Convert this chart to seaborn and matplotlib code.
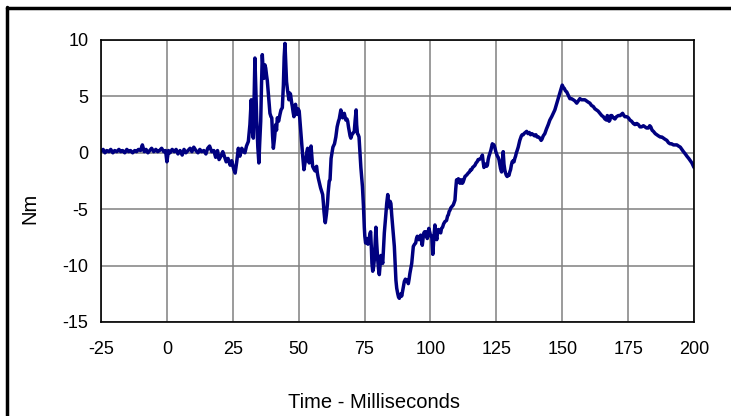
import numpy as np
import pandas as pd
import matplotlib
matplotlib.use("Agg")
import matplotlib.pyplot as plt
import seaborn as sns
from matplotlib.lines import Line2D

# time axis (ms) and torque (Nm)
time_ms = [
    -25, -24.2, -23.5, -22.8, -22, -21.3, -20.5, -19.8, -19, -18.2, -17.5, -16.8, -16, -15.2,
    -14.5, -13.8, -13, -12.2, -11.5, -10.8, -10, -9.3, -8.6, -7.9, -7.2, -6.5, -5.8, -5,
    -4.2, -3.5, -2.8, -2, -1.2, -0.5, 0, 0.6, 1.2, 2, 2.8, 3.5, 4.2, 5, 5.8, 6.5, 7.2, 8,
    8.8, 9.5, 10.2, 11, 11.8, 12.5, 13.2, 14, 14.8, 15.5, 16.2, 17, 17.8, 18.5, 19.2, 19.8,
    20.5, 21.2, 21.8, 22.5, 23.2, 24, 24.6, 25.3, 25.9, 26.5, 27.1, 27.7, 28.4, 29.0, 29.6,
    30.2, 30.9, 31.5, 32.0, 32.4, 32.8, 33.1, 33.4, 33.8, 34.1, 34.5, 34.9, 35.2, 35.6, 35.9,
    36.2, 36.5, 36.8, 37.2, 37.5, 37.8, 38.1, 38.6, 39.1, 39.5, 39.8, 40.1, 40.4, 40.8, 41.3,
    41.6, 41.9, 42.4, 42.9, 43.3, 43.8, 44.2, 44.5, 44.8, 45.1, 45.4, 45.8, 46.3, 46.6, 46.9,
    47.3, 47.6, 47.9, 48.2, 48.5, 48.8, 49.1, 49.4, 49.8, 50.2, 50.6, 51.1, 51.5, 52.0, 52.4,
    52.8, 53.1, 53.4, 53.7, 54.0, 54.4, 54.7, 55.0, 55.3, 55.7, 56.2, 56.5, 56.8, 57.1, 57.4,
    57.9, 58.3, 58.7, 59.1, 59.4, 59.6, 59.9, 60.1, 60.5, 60.9, 61.2, 61.6, 61.9, 62.3, 63.0,
    63.6, 64.1, 64.6, 65.1, 65.4, 66.0, 66.4, 66.7, 67.0, 67.3, 67.6, 67.9, 68.3, 68.6, 68.9,
    69.2, 69.5, 69.8, 70.2, 70.5, 70.8, 71.1, 71.4, 71.8, 72.0, 72.3, 72.6, 72.9, 73.2, 73.6,
    73.9, 74.2, 74.6, 74.9, 75.1, 75.4, 75.7, 76.0, 76.3, 76.7, 77.0, 77.3, 77.6, 77.8, 78.1,
    78.4, 78.7, 79.0, 79.3, 79.6, 80.0, 80.3, 80.6, 80.9, 81.2, 81.5, 81.9, 82.2, 82.5, 82.8,
    83.1, 83.4, 83.8, 84.1, 84.4, 84.7, 85.0, 85.3, 85.7, 86.0, 86.3, 86.6, 86.9, 87.2, 87.6,
    87.9, 88.2, 88.5, 88.8, 89.1, 89.5, 89.8, 90.1, 90.5, 91.0, 91.3, 91.6, 91.9, 92.2, 92.5,
    92.9, 93.2, 93.5, 94.0, 94.4, 94.7, 95.0, 95.3, 95.6, 96.0, 96.3, 96.6, 96.9, 97.2, 97.5,
    97.8, 98.2, 98.5, 98.8, 99.1, 99.4, 99.8, 100.1, 100.5, 100.9, 101.4, 101.7, 102.1, 102.4,
    102.7, 103.0, 103.4, 103.9, 104.2, 104.6, 105.0, 105.5, 106.1, 106.5, 106.8, 107.1, 107.4,
    107.7, 108.0, 108.4, 108.7, 109.0, 109.3, 109.6, 109.9, 110.2, 110.6, 110.9, 111.2, 111.5,
    111.8, 112.1, 112.4, 112.8, 113.1, 113.6, 114.0, 114.3, 114.8, 115.2, 115.6, 116.0, 116.5,
    116.9, 117.3, 117.7, 118.1, 118.5, 119.0, 119.4, 119.7, 120.0, 120.3, 120.7, 121.0, 121.3,
    121.6, 121.9, 122.2, 122.6, 122.9, 123.2, 123.5, 123.8, 124.1, 124.5, 124.8, 125.1, 125.4,
    125.7, 126.0, 126.3, 126.6, 127.0, 127.3, 127.6, 127.9, 128.2, 128.5, 128.8, 129.1, 129.5,
    129.8, 130.1, 130.4, 130.7, 131.0, 131.4, 131.7, 132.0, 132.3, 132.6, 132.9, 133.3, 133.6,
    133.9, 134.2, 134.5, 134.8, 135.2, 135.5, 136.0, 136.5, 137.0, 137.5, 138.0, 138.5, 139.0,
    139.5, 140.0, 140.5, 141.0, 141.5, 142.0, 142.3, 142.8, 143.4, 144.0, 144.7, 145.3, 146.0,
    146.6, 147.2, 147.7, 148.1, 148.6, 149.1, 149.6, 150.0, 150.4, 150.8, 151.2, 151.7, 152.3,
    152.9, 153.5, 154.2, 154.8, 155.5, 156.1, 156.7, 157.3, 158.0, 158.6, 159.2, 159.8, 160.5,
    161.1, 161.8, 162.4, 163.0, 163.6, 164.3, 165.0, 165.6, 166.2, 166.8, 167.1, 167.5, 167.8,
    168.1, 168.4, 168.8, 169.4, 170.0, 170.6, 171.3, 172.0, 172.9, 173.4, 173.8, 174.5, 175.1,
    175.7, 176.3, 177.0, 177.6, 178.3, 178.9, 179.5, 180.1, 180.8, 181.4, 182.0, 182.7, 183.2,
    183.6, 184.1, 184.6, 185.3, 185.9, 186.5, 187.2, 187.8, 188.4, 189.0, 189.7, 190.3, 190.9,
    191.5, 192.2, 192.8, 193.5, 194.1, 194.8, 195.4, 196.0, 196.7, 197.3, 198.0, 198.6, 199.2,
    199.8, 200,
]
torque_nm = [
    0.1, 0.3, 0.0, 0.2, 0.1, 0.3, 0.0, 0.2, 0.1, 0.3, 0.1, 0.2, 0.0, 0.3,
    0.1, 0.2, 0.0, 0.2, 0.1, 0.3, 0.2, 0.7, 0.1, 0.3, 0.0, 0.2, 0.4, 0.1,
    0.3, 0.1, 0.2, 0.4, 0.1, 0.2, -0.8, 0.2, 0.0, 0.3, 0.1, 0.3, -0.1, 0.2, -0.2, 0.3, 0.0, 0.2,
    0.4, 0.1, 0.5, 0.2, 0.0, 0.3, 0.1, 0.2, -0.1, 0.4, 0.6, 0.1, 0.2, -0.4, 0.2, -0.6,
    -0.3, 0.1, -0.3, -0.8, -0.5, -1.1, -0.7, -1.4, -1.8, -0.8, 0.4, -0.3, 0.4, 0.1, 0.0,
    0.6, 1.0, 2.5, 4.7, 2.0, 1.3, 5.0, 8.4, 5.0, 2.8, 0.5, -0.9, 0.8, 2.8, 6.0,
    8.7, 7.4, 6.6, 7.8, 7.5, 6.9, 6.4, 5.0, 3.5, 3.2, 3.1, 1.5, 0.4, 1.2, 2.5,
    2.0, 3.1, 2.8, 3.4, 3.8, 4.0, 6.0, 8.5, 9.7, 8.0, 6.3, 5.5, 4.7, 5.3, 5.2,
    4.5, 4.1, 3.6, 3.2, 3.9, 4.3, 3.8, 3.4, 3.9, 3.7, 2.5, 1.1, -0.2, -1.5, -0.9,
    -0.5, 0.1, 0.4, -0.3, -0.9, 0.0, 0.6, -0.3, -1.2, -1.4, -1.6, -1.3, -1.2, -1.8, -2.2,
    -2.7, -3.1, -3.4, -3.7, -4.5, -5.2, -5.9, -6.2, -5.5, -4.6, -3.5, -2.5, -2.4, -0.5, 0.5,
    0.8, 1.4, 2.3, 2.8, 3.0, 3.8, 3.3, 3.1, 3.4, 3.5, 3.2, 2.9, 3.0, 2.8, 2.3,
    1.9, 1.5, 1.3, 1.6, 1.7, 1.8, 1.9, 2.8, 3.8, 2.5, 1.7, 1.6, 1.4, 0.2, -1.3,
    -2.2, -3.0, -4.8, -6.6, -7.4, -8.0, -7.7, -7.6, -8.1, -7.9, -7.2, -7.0, -8.5, -9.8, -10.5,
    -10.2, -9.5, -8.0, -6.6, -8.0, -9.5, -10.3, -10.8, -10.0, -9.1, -9.4, -9.8, -8.5, -7.1, -6.3,
    -5.4, -4.5, -3.7, -4.4, -4.8, -4.3, -4.5, -5.5, -6.6, -7.5, -8.3, -9.8, -11.3, -12.0, -12.5,
    -12.8, -12.9, -12.6, -12.5, -12.7, -12.2, -11.8, -11.4, -11.2, -11.4, -11.3, -11.6, -11.2, -10.7, -10.3,
    -9.8, -9.0, -8.3, -8.1, -8.0, -7.6, -7.4, -7.6, -7.7, -7.4, -7.3, -7.8, -8.2, -7.6, -7.1,
    -7.0, -7.0, -7.3, -7.6, -7.1, -6.7, -7.1, -7.4, -7.4, -9.0, -7.2, -6.4, -7.3, -7.7,
    -7.1, -6.8, -7.0, -7.1, -6.7, -6.6, -6.3, -6.1, -6.0, -5.6, -5.5, -5.2, -5.1,
    -4.9, -4.8, -4.7, -4.6, -4.4, -4.2, -3.2, -2.4, -2.6, -2.3, -2.5, -2.7, -2.4,
    -2.4, -2.7, -2.6, -2.3, -2.1, -2.0, -1.9, -1.8, -1.7, -1.5, -1.5, -1.3, -1.2,
    -1.1, -0.9, -0.8, -0.6, -0.6, -0.5, -0.4, -0.2, -0.8, -1.3, -1.0, -1.0, -1.2,
    -1.1, -0.6, -0.3, 0.0, 0.2, 0.5, 0.8, 0.6, 0.7, 0.4, 0.1, -0.1, -0.3,
    -0.4, -0.6, -1.0, -1.4, -1.7, -0.8, 0.1, -1.0, -1.5, -1.8, -2.0, -2.1, -2.0,
    -2.0, -1.7, -1.5, -1.1, -0.8, -0.7, -0.8, -0.5, -0.3, 0.0, 0.2, 0.5, 0.8,
    1.1, 1.3, 1.5, 1.6, 1.6, 1.7, 1.8, 1.9, 1.7, 1.8, 1.6, 1.7, 1.6,
    1.5, 1.6, 1.4, 1.4, 1.3, 1.1, 1.2, 1.5, 1.7, 2.1, 2.5, 2.9, 3.2,
    3.5, 3.8, 4.2, 4.5, 4.9, 5.3, 5.7, 6.0, 5.8, 5.7, 5.5, 5.4, 5.1,
    4.8, 4.8, 4.7, 4.6, 4.4, 4.6, 4.8, 4.7, 4.7, 4.7, 4.6, 4.5, 4.4,
    4.2, 4.1, 3.9, 3.8, 3.7, 3.5, 3.3, 3.2, 3.0, 2.9, 3.3, 3.2, 2.8,
    2.9, 3.3, 3.3, 3.1, 3.0, 3.2, 3.3, 3.3, 3.5, 3.3, 3.2, 3.2, 3.1,
    2.9, 2.8, 2.6, 2.5, 2.6, 2.5, 2.3, 2.3, 2.4, 2.3, 2.2, 2.2, 2.4,
    2.3, 2.0, 1.9, 1.7, 1.6, 1.5, 1.4, 1.4, 1.3, 1.2, 1.1, 0.9, 0.8,
    0.8, 0.7, 0.7, 0.7, 0.6, 0.5, 0.3, 0.1, -0.1, -0.3, -0.5, -0.7, -0.9,
    -1.2, -1.3,
]
x_ticks = [-25, 0, 25, 50, 75, 100, 125, 150, 175, 200]
y_ticks = [-15, -10, -5, 0, 5, 10]

df = pd.DataFrame({"Time": time_ms, "Nm": torque_nm})

sns.set_theme(style="white")
plt.rcParams['font.family'] = ['Liberation Sans Narrow', 'Liberation Sans', 'DejaVu Sans']
plt.rcParams['axes.unicode_minus'] = False
plt.rcParams['text.color'] = 'black'

fig = plt.figure(figsize=(7.31, 4.16), dpi=100)
ax = fig.add_axes([101 / 731, 1 - 322 / 416, 593 / 731, 282 / 416])

sns.lineplot(data=df, x="Time", y="Nm", ax=ax, color="#000080", linewidth=2.5,
             sort=False, estimator=None)

ax.set_xlim(-25, 200)
ax.set_ylim(-15, 10)
ax.set_xticks(x_ticks)
ax.set_yticks(y_ticks)
ax.grid(True, color="#808080", linewidth=1.1)
ax.set_axisbelow(True)
for s in ax.spines.values():
    s.set_color("black")
    s.set_linewidth(1.2)
ax.tick_params(axis="both", direction="out", length=5, width=1, color="#555555",
               labelsize=13, labelcolor="black", pad=4)
ax.tick_params(axis="x", pad=9)
ax.set_xlabel("")
ax.set_ylabel("")

fig.text(30 / 731, 1 - 208 / 416, "Nm", rotation=90, ha="center", va="center",
         fontsize=14.5, color="black")
fig.text(374 / 731, 1 - 403 / 416, "Time - Milliseconds", ha="center", va="center",
         fontsize=14.5, color="black")

# outer chart frame (left and top edges visible)
fig.add_artist(Line2D([6.5 / 731, 6.5 / 731], [0, 1 - 6.5 / 416], transform=fig.transFigure,
                      color="black", linewidth=2.5))
fig.add_artist(Line2D([6.5 / 731, 1], [1 - 7.5 / 416, 1 - 7.5 / 416], transform=fig.transFigure,
                      color="black", linewidth=2.5))

fig.savefig("out.png", dpi=100)
